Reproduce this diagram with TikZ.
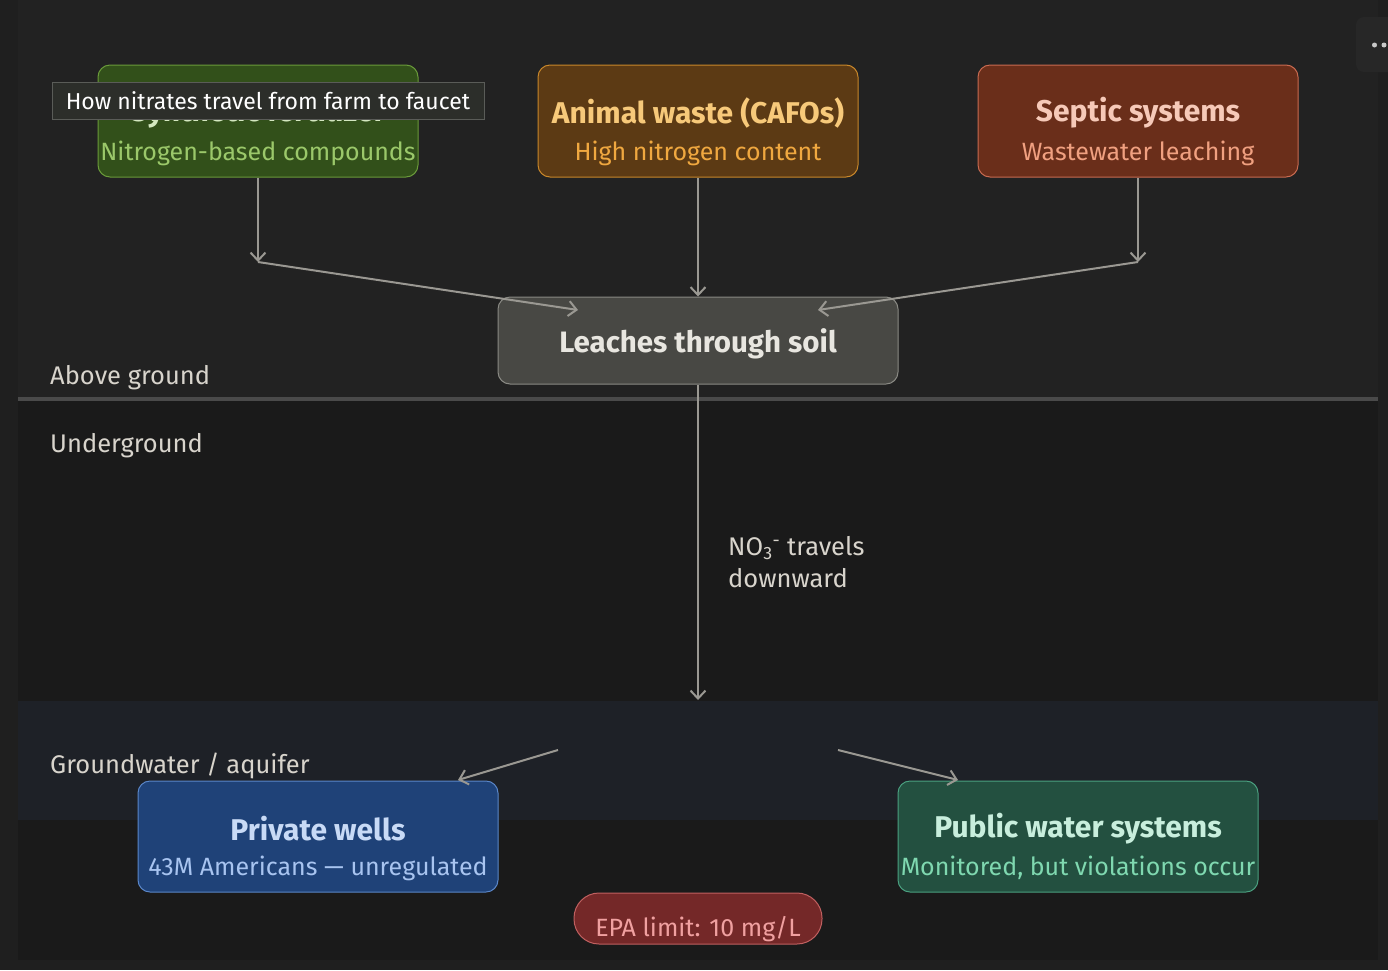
\documentclass[tikz,border=0pt]{standalone}
\usepackage{fontspec}
\setmainfont{Fira Sans}
\usetikzlibrary{arrows.meta}
\definecolor{outerbg}{HTML}{1F1F1F}
\definecolor{topbg}{HTML}{222222}
\definecolor{underbg}{HTML}{1A1A1A}
\definecolor{aquibg}{HTML}{1E2127}
\definecolor{sepline}{HTML}{4A4A4A}
\definecolor{arrowc}{HTML}{9A9892}
\definecolor{labelc}{HTML}{D8D4CC}
\definecolor{fertfill}{HTML}{32501A}
\definecolor{fertdraw}{HTML}{6A9A3A}
\definecolor{fertsub}{HTML}{9BC86A}
\definecolor{ferttitle}{HTML}{D4E8C0}
\definecolor{animfill}{HTML}{5C3A14}
\definecolor{animdraw}{HTML}{C8872A}
\definecolor{animtitle}{HTML}{F7C97A}
\definecolor{animsub}{HTML}{F0A840}
\definecolor{sepfill}{HTML}{6A2E1A}
\definecolor{sepdraw}{HTML}{C86A50}
\definecolor{septitle}{HTML}{F6C9B8}
\definecolor{sepsub}{HTML}{F0A080}
\definecolor{leachfill}{HTML}{484844}
\definecolor{leachdraw}{HTML}{8A8A84}
\definecolor{leachtext}{HTML}{E8E6E0}
\definecolor{pwfill}{HTML}{1F4278}
\definecolor{pwdraw}{HTML}{5A86C8}
\definecolor{pwtitle}{HTML}{C8DAF6}
\definecolor{pwsub}{HTML}{A8C4F0}
\definecolor{pubfill}{HTML}{235040}
\definecolor{pubdraw}{HTML}{4AA080}
\definecolor{pubtitle}{HTML}{C8EEDD}
\definecolor{pubsub}{HTML}{7FD8B0}
\definecolor{epafill}{HTML}{742828}
\definecolor{epadraw}{HTML}{C06060}
\definecolor{epatext}{HTML}{F0A0A0}
\definecolor{tipfill}{HTML}{2C2E2A}
\definecolor{tipdraw}{HTML}{5A5C58}
\definecolor{btnfill}{HTML}{272727}
\definecolor{dotc}{HTML}{C8C8C8}
\tikzset{
  box/.style={rounded corners=12pt, line width=1pt, minimum width=320pt, minimum height=112pt, inner sep=0pt},
  title/.style={font=\fontsize{30}{34}\selectfont\bfseries, inner sep=0pt},
  sub/.style={font=\fontsize{25}{29}\selectfont, inner sep=0pt},
  lab/.style={font=\fontsize{25.5}{29}\selectfont, text=labelc, inner sep=0pt, anchor=west},
  conn/.style={draw=arrowc, line width=2pt, -{Straight Barb[length=8pt,width=15pt,line width=2pt]}},
}
\begin{document}
\begin{tikzpicture}[x=1pt,y=-1pt]
\useasboundingbox (0,0) rectangle (1388,970);
% backgrounds
\fill[outerbg] (0,0) rectangle (1388,970);
\fill[topbg] (18,0) rectangle (1378,398);
\fill[underbg] (18,400) rectangle (1378,960);
\fill[aquibg] (18,701) rectangle (1378,820);
\fill[sepline] (18,397) rectangle (1378,400.5);
% corner button
\fill[btnfill, rounded corners=8pt] (1356,17) rectangle (1400,72);
\fill[dotc] (1374.5,45) circle (2.5pt);
\fill[dotc] (1384,45) circle (2.5pt);
% zone labels
\node[lab] (above) at (50,378) {Above ground};
\node[lab] (under) at (50,446) {Underground};
\node[lab] (aqui) at (50,766) {Groundwater / aquifer};
% source boxes
\node[box, fill=fertfill, draw=fertdraw] (fert) at (258,121) {};
\node[title, text=ferttitle] (fertT) at (258,113) {Synthetic fertilizer};
\node[sub, text=fertsub] (fertS) at (258,153) {Nitrogen-based compounds};
\node[box, fill=animfill, draw=animdraw] (anim) at (698,121) {};
\node[title, text=animtitle] (animT) at (698,113) {Animal waste (CAFOs)};
\node[sub, text=animsub] (animS) at (698,153) {High nitrogen content};
\node[box, fill=sepfill, draw=sepdraw] (sept) at (1138,121) {};
\node[title, text=septitle] (septT) at (1138,113) {Septic systems};
\node[sub, text=sepsub] (septS) at (1138,153) {Wastewater leaching};
% tooltip
\node[fill=tipfill, draw=tipdraw, line width=1pt, minimum width=432pt, minimum height=37pt, inner sep=0pt,
      font=\fontsize{23}{27}\selectfont, text=white] (tip) at (268,100.5) {How nitrates travel from farm to faucet};
% leaches
\node[box, fill=leachfill, draw=leachdraw, minimum width=400pt, minimum height=87pt,
      font=\fontsize{29.5}{33}\selectfont\bfseries, text=leachtext] (leach) at (698,340.5) {\raisebox{-12pt}[0pt][0pt]{Leaches through soil}};
% outputs
\node[box, fill=pwfill, draw=pwdraw, minimum width=360pt, minimum height=111pt] (pw) at (318,836.5) {};
\node[title, text=pwtitle] (pwT) at (318,829) {Private wells};
\node[sub, text=pwsub] (pwS) at (318,868) {43M Americans — unregulated};
\node[box, fill=pubfill, draw=pubdraw, minimum width=360pt, minimum height=111pt] (pub) at (1078,836.5) {};
\node[title, text=pubtitle] (pubT) at (1078,829) {Public water systems};
\node[sub, text=pubsub] (pubS) at (1078,868) {Monitored, but violations occur};
\node[rounded corners=25pt, fill=epafill, draw=epadraw, line width=1pt, minimum width=248pt, minimum height=51pt, inner sep=0pt] (epa) at (698,918.5) {};
\node[sub, text=epatext] (epaT) at (698,929) {EPA limit: 10 mg/L};
% junction coordinates
\coordinate (jl) at (258,262);
\coordinate (jr) at (1138,262);
\coordinate (ml) at (578,310);
\coordinate (mr) at (818,310);
\coordinate (aq) at (698,700);
\coordinate (sl) at (558,750);
\coordinate (sr) at (838,750);
\coordinate (pwin) at (458,780);
\coordinate (pubin) at (958,780);
% connectors
\draw[conn] (fert.south) -- (jl);
\draw[conn] (jl) -- (ml);
\draw[conn] (sept.south) -- (jr);
\draw[conn] (jr) -- (mr);
\draw[conn] (anim.south) -- (leach.north);
\draw[conn] (leach.south) -- (aq);
\draw[conn] (sl) -- (pwin);
\draw[conn] (sr) -- (pubin);
\node[font=\fontsize{25.5}{32}\selectfont, text=labelc, align=left, anchor=north west, inner sep=0pt] (no3) at (728,536)
  {NO\textsubscript{3}\textsuperscript{-} travels\\downward};
\end{tikzpicture}
\end{document}
